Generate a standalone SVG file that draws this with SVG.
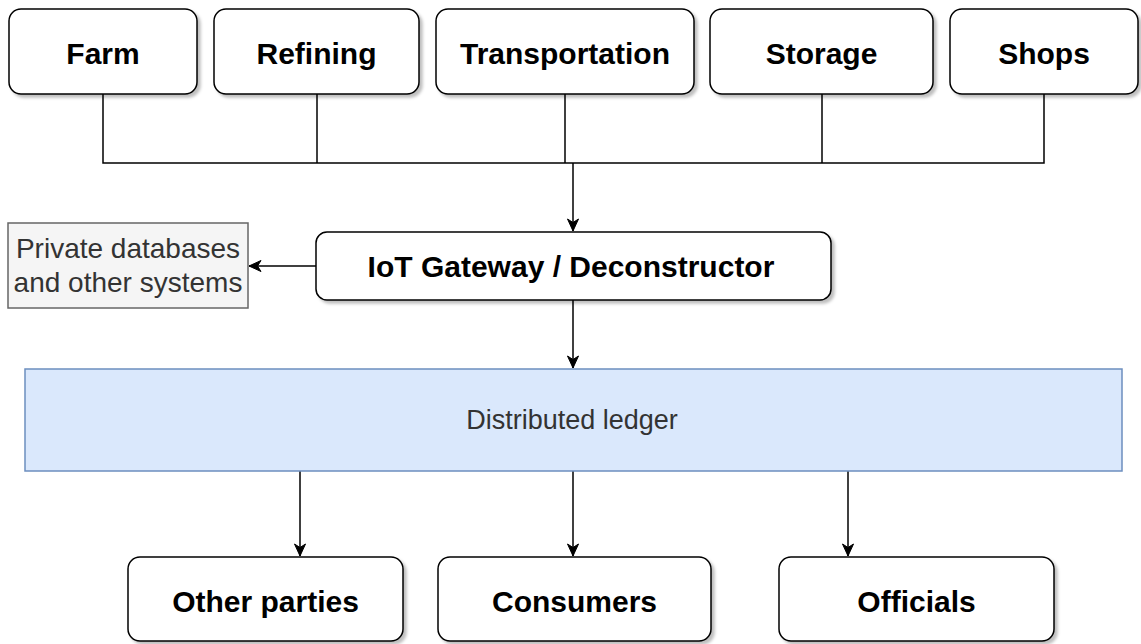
<svg xmlns="http://www.w3.org/2000/svg" width="1141" height="644" viewBox="0 0 1141 644">
<style>
.box{fill:#fff;stroke:#000;stroke-width:1.5;filter:url(#sh)}
.bl{font-family:"Liberation Sans",Arial,sans-serif;font-weight:bold;font-size:30px;fill:#000;text-anchor:middle}
.rl{font-family:"Liberation Sans",Arial,sans-serif;font-size:27px;fill:#333;text-anchor:middle}
.pl{font-size:28px}
.ln{fill:none;stroke:#000;stroke-width:1.5}
</style>
<defs>
<filter id="sh" x="-10%" y="-10%" width="130%" height="140%">
<feDropShadow dx="3" dy="3" stdDeviation="1.5" flood-color="#000" flood-opacity="0.25"/>
</filter>
<marker id="ar" markerUnits="userSpaceOnUse" markerWidth="16" markerHeight="16" viewBox="0 0 16 16" refX="13" refY="8" orient="auto">
<path d="M1,2.5 L13,8 L1,13.5 L4.5,8 Z" fill="#000" stroke="#000" stroke-width="1"/>
</marker>
</defs>
<rect width="1141" height="644" fill="#fff"/>
<g id="connectors">
<path class="ln" d="M103,94 V163 H1044 V94"/>
<path class="ln" d="M317,94 V163"/>
<path class="ln" d="M565,94 V163"/>
<path class="ln" d="M822,94 V163"/>
<path class="ln" d="M573,163 V231" marker-end="url(#ar)"/>
<path class="ln" d="M316,266 H249" marker-end="url(#ar)"/>
<path class="ln" d="M573,300 V368" marker-end="url(#ar)"/>
<path class="ln" d="M300,471 V556" marker-end="url(#ar)"/>
<path class="ln" d="M573,471 V556" marker-end="url(#ar)"/>
<path class="ln" d="M848,471 V556" marker-end="url(#ar)"/>
</g>
<g id="farm"><rect class="box" x="9" y="9" width="188" height="85" rx="12"/><text class="bl" x="103" y="64">Farm</text></g>
<g id="refining"><rect class="box" x="214" y="9" width="205" height="85" rx="12"/><text class="bl" x="316.5" y="64">Refining</text></g>
<g id="transportation"><rect class="box" x="436" y="9" width="258" height="85" rx="12"/><text class="bl" x="565" y="64">Transportation</text></g>
<g id="storage"><rect class="box" x="710" y="9" width="223" height="85" rx="12"/><text class="bl" x="821.5" y="64">Storage</text></g>
<g id="shops"><rect class="box" x="950" y="9" width="188" height="85" rx="12"/><text class="bl" x="1044" y="64">Shops</text></g>
<g id="gateway"><rect class="box" x="316" y="232" width="515" height="68" rx="11"/><text class="bl" x="571" y="277">IoT Gateway / Deconstructor</text></g>
<g id="private"><rect x="8" y="223" width="240" height="85" fill="#f5f5f5" stroke="#666" stroke-width="1.5"/><text class="rl pl" x="128" y="258">Private databases</text><text class="rl pl" x="128" y="292">and other systems</text></g>
<g id="ledger"><rect x="25" y="369" width="1097" height="102" fill="#dae8fc" stroke="#6c8ebf" stroke-width="1.5"/><text class="rl" x="572" y="429">Distributed ledger</text></g>
<g id="other"><rect class="box" x="128" y="557" width="275" height="84" rx="12"/><text class="bl" x="265.5" y="612">Other parties</text></g>
<g id="consumers"><rect class="box" x="438" y="557" width="273" height="84" rx="12"/><text class="bl" x="574.5" y="612">Consumers</text></g>
<g id="officials"><rect class="box" x="779" y="557" width="275" height="84" rx="12"/><text class="bl" x="916.5" y="612">Officials</text></g>
</svg>
